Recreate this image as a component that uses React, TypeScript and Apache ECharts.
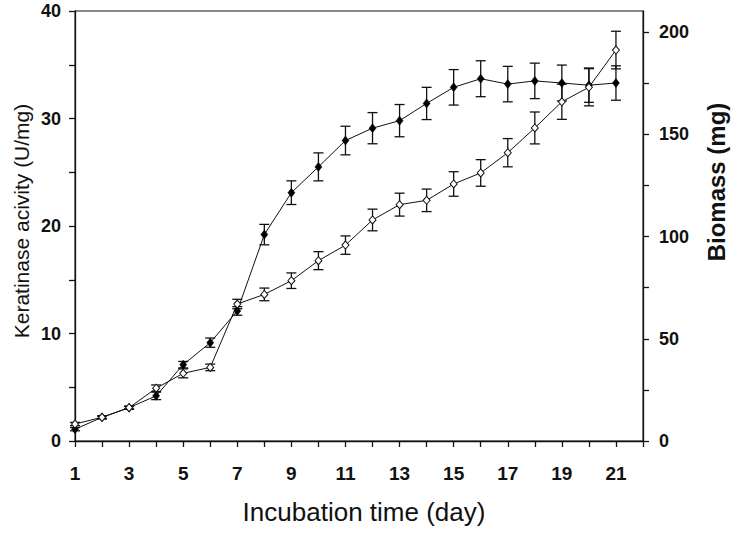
import React, { useEffect, useRef } from "react";
import * as echarts from "echarts";

const days = [1, 2, 3, 4, 5, 6, 7, 8, 9, 10, 11, 12, 13, 14, 15, 16, 17, 18, 19, 20, 21];
const keratinase = [1.1, 2.2, 3.1, 4.2, 7.1, 9.15, 12.1, 19.2, 23.1, 25.5, 27.95, 29.1, 29.8, 31.4, 32.9, 33.7, 33.2, 33.5, 33.3, 33.1, 33.3];
const keratinaseErr = [0.15, 0.15, 0.15, 0.35, 0.3, 0.43, 0.4, 0.95, 1.1, 1.3, 1.33, 1.45, 1.5, 1.5, 1.65, 1.67, 1.65, 1.65, 1.67, 1.6, 1.6];
const biomass = [8.3, 11.6, 16.3, 25.8, 33.1, 36.0, 67.0, 71.7, 78.4, 88.2, 95.8, 108.1, 115.6, 117.7, 125.7, 131.1, 141.0, 153.1, 165.9, 173.0, 191.2];
const biomassErr = [0.8, 0.6, 0.6, 1.6, 2.2, 1.6, 2.3, 3.1, 3.8, 4.4, 4.5, 5.3, 5.6, 5.5, 6.0, 6.5, 6.9, 7.8, 8.6, 9.1, 9.2];
const rightTicks = [0, 25, 50, 75, 100, 125, 150, 175, 200];
const rightLabels = [0, 50, 100, 150, 200];

const FONT = "'Liberation Sans', Arial, sans-serif";

function errorSeries(vals: number[], errs: number[], yAxisIndex: number) {
  return {
    type: "custom",
    yAxisIndex,
    clip: false,
    z: 1,
    data: days.map((d, i) => [d, vals[i] - errs[i], vals[i] + errs[i]]),
    encode: { x: 0, y: [1, 2] },
    renderItem: (params: any, api: any) => {
      const x = api.value(0);
      const lo = api.coord([x, api.value(1)]);
      const hi = api.coord([x, api.value(2)]);
      const w = 5;
      const style = { stroke: "#111", lineWidth: 1.3 };
      return {
        type: "group",
        children: [
          { type: "line", shape: { x1: lo[0], y1: lo[1], x2: hi[0], y2: hi[1] }, style },
          { type: "line", shape: { x1: lo[0] - w, y1: lo[1], x2: lo[0] + w, y2: lo[1] }, style },
          { type: "line", shape: { x1: hi[0] - w, y1: hi[1], x2: hi[0] + w, y2: hi[1] }, style },
        ],
      };
    },
  };
}

export default function App() {
  const ref = useRef<HTMLDivElement>(null);
  useEffect(() => {
    const chart = echarts.init(ref.current!, null, { renderer: "svg" });
    chart.setOption({
      animation: false,
      backgroundColor: "#fff",
      grid: { left: 75, right: 93, top: 11, bottom: 93, show: true, borderColor: "#111", borderWidth: 1 },
      xAxis: {
        type: "value",
        min: 1,
        max: 22,
        interval: 1,
        axisLine: { lineStyle: { color: "#111", width: 1.3 } },
        axisTick: { length: 6, lineStyle: { color: "#111", width: 1.3 } },
        splitLine: { show: false },
        axisLabel: {
          margin: 23,
          color: "#111",
          fontFamily: FONT,
          fontWeight: "bold",
          fontSize: 19,
          formatter: (v: number) => (v % 2 === 1 && v <= 21 ? String(v) : ""),
        },
      },
      yAxis: [
        {
          type: "value",
          min: 0,
          max: 40,
          interval: 5,
          axisLine: { show: true, lineStyle: { color: "#111", width: 1.3 } },
          axisTick: { show: true, length: 6, lineStyle: { color: "#111", width: 1.3 } },
          splitLine: { show: false },
          axisLabel: {
            margin: 14,
            color: "#111",
            fontFamily: FONT,
            fontWeight: "bold",
            fontSize: 18,
            formatter: (v: number) => (v % 10 === 0 ? String(v) : ""),
          },
        },
        {
          type: "value",
          min: 0,
          max: 210.3,
          position: "right",
          axisLine: { show: true, lineStyle: { color: "#111", width: 1.3 } },
          axisTick: { show: true, length: 6, customValues: rightTicks, lineStyle: { color: "#111", width: 1.3 } },
          splitLine: { show: false },
          axisLabel: {
            margin: 16,
            color: "#111",
            fontFamily: FONT,
            fontWeight: "bold",
            fontSize: 18,
            customValues: rightLabels,
          },
        },
      ],
      graphic: [
        {
          type: "text",
          x: 364,
          y: 512,
          style: {
            text: "Incubation time (day)",
            font: `26px ${FONT}`,
            fill: "#111",
            align: "center",
            verticalAlign: "middle",
          },
        },
        {
          type: "text",
          x: 21,
          y: 221,
          rotation: Math.PI / 2,
          style: {
            text: "Keratinase acivity (U/mg)",
            font: `21px ${FONT}`,
            fill: "#111",
            align: "center",
            verticalAlign: "middle",
          },
        },
        {
          type: "text",
          x: 716,
          y: 182,
          rotation: Math.PI / 2,
          style: {
            text: "Biomass (mg)",
            font: `bold 24px ${FONT}`,
            fill: "#111",
            align: "center",
            verticalAlign: "middle",
          },
        },
      ],
      series: [
        errorSeries(keratinase, keratinaseErr, 0),
        errorSeries(biomass, biomassErr, 1),
        {
          type: "line",
          name: "Keratinase activity",
          yAxisIndex: 0,
          z: 3,
          data: days.map((d, i) => [d, keratinase[i]]),
          symbol: "diamond",
          symbolSize: [7, 9],
          showAllSymbol: true,
          lineStyle: { color: "#111", width: 1 },
          itemStyle: { color: "#000", borderColor: "#000", borderWidth: 0.5 },
        },
        {
          type: "line",
          name: "Biomass",
          yAxisIndex: 1,
          z: 4,
          data: days.map((d, i) => [d, biomass[i]]),
          symbol: "diamond",
          symbolSize: [7, 8],
          showAllSymbol: true,
          lineStyle: { color: "#111", width: 1 },
          itemStyle: { color: "#fff", borderColor: "#111", borderWidth: 1 },
        },
      ],
    });
    return () => chart.dispose();
  }, []);
  return <div ref={ref} style={{ width: 736, height: 534, position: "absolute", left: 0, top: 0 }} />;
}
